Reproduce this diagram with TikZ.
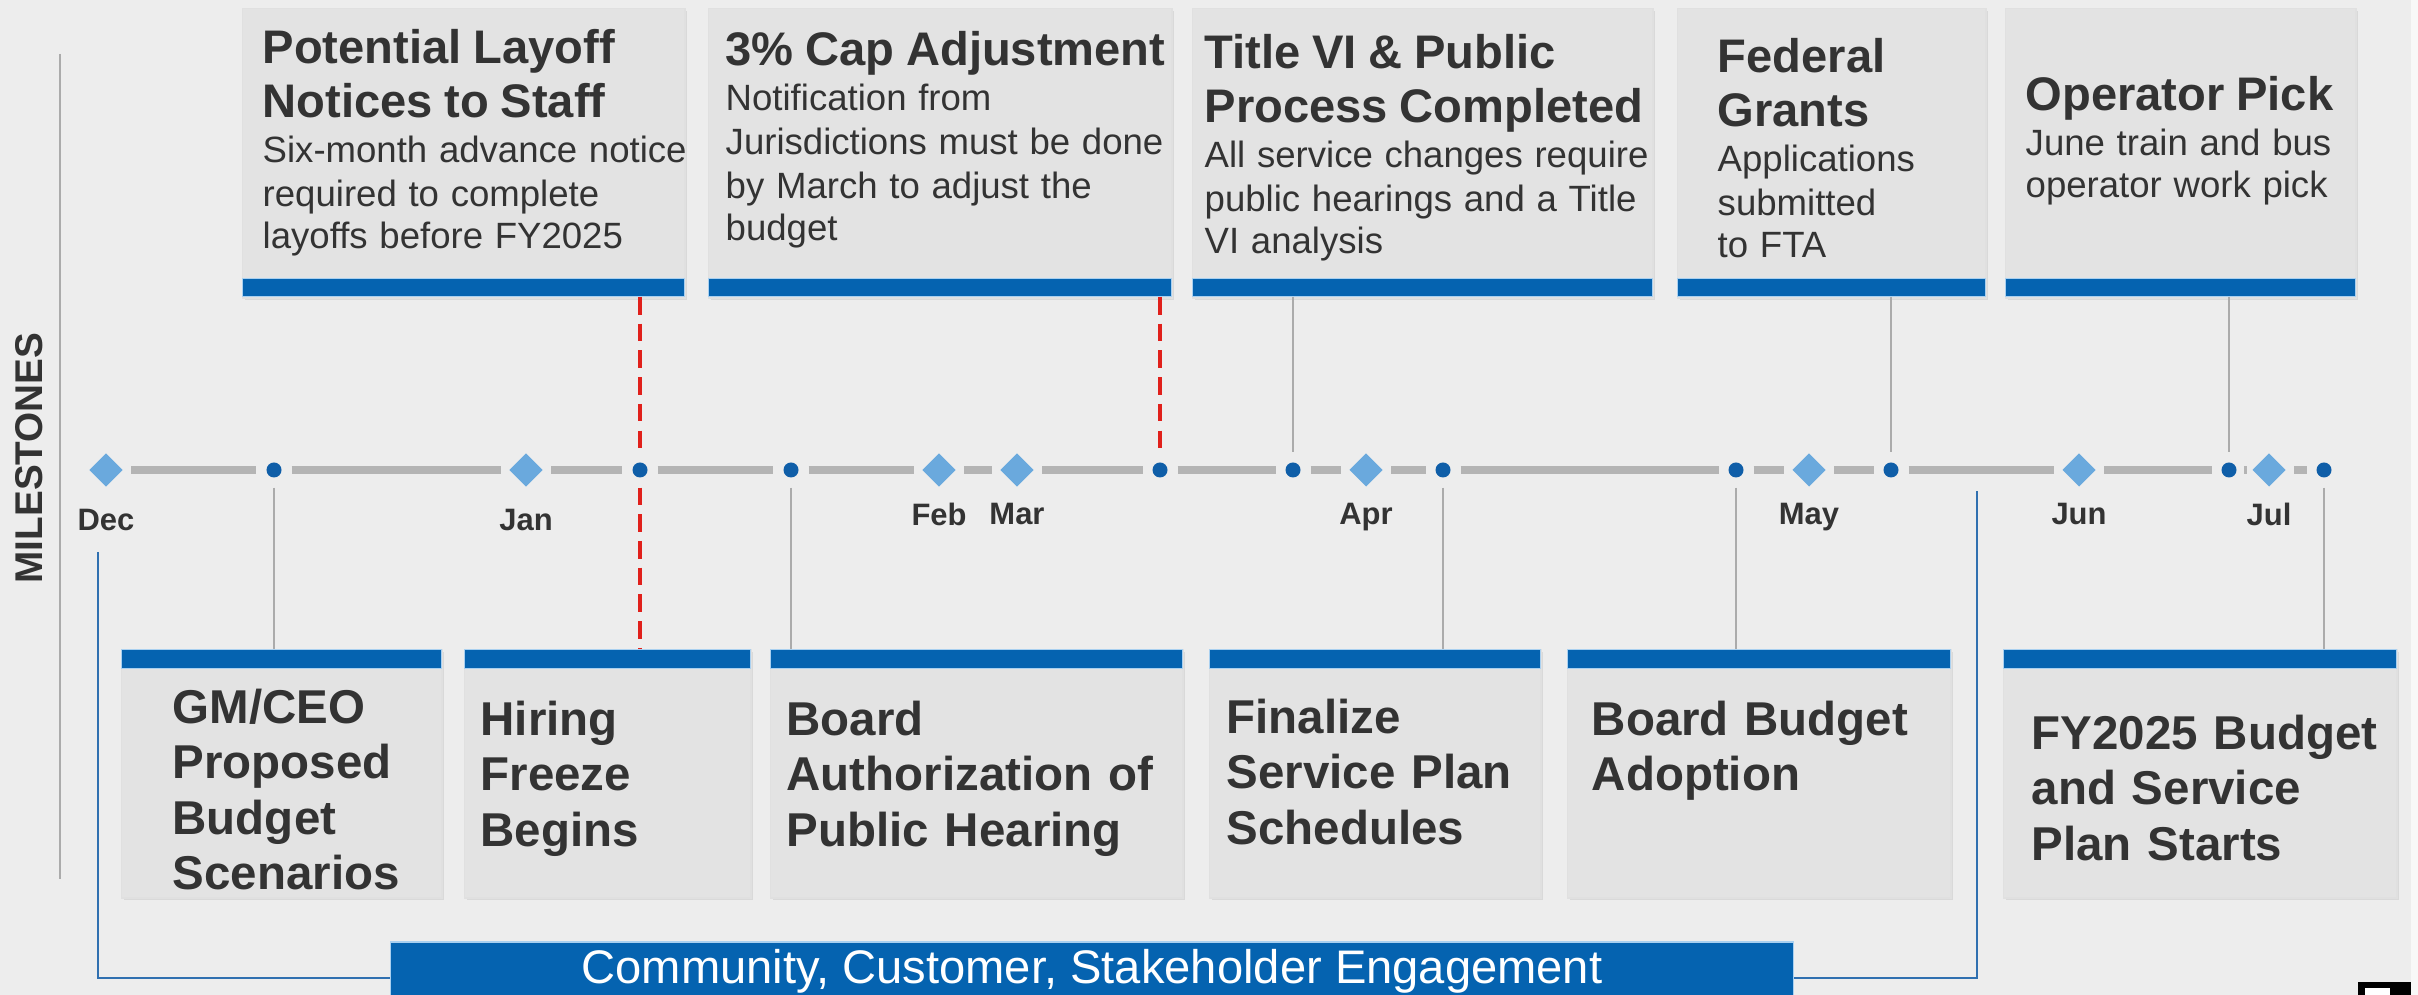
\documentclass[tikz,border=0pt]{standalone}
\usepackage{fontspec}
\setmainfont{Liberation Sans}
\usetikzlibrary{positioning,shapes.geometric,shadows}
\setlength{\parindent}{0pt}

\definecolor{bggray}{HTML}{EDEDED}
\definecolor{cardgray}{HTML}{E3E3E3}
\definecolor{barblue}{HTML}{0563B0}
\definecolor{barrim}{HTML}{A9D0F0}
\definecolor{gemblue}{HTML}{6AA9DD}
\definecolor{dotblue}{HTML}{0F5EA8}
\definecolor{railgray}{HTML}{B4B4B4}
\definecolor{stemgray}{HTML}{ABABAB}
\definecolor{cutred}{HTML}{E0201B}
\definecolor{inkgray}{HTML}{333333}
\definecolor{linkblue}{HTML}{3070B0}

\newcommand{\ttl}{\fontsize{13.4pt}{15.4pt}\selectfont\bfseries}
\newcommand{\bdy}{\fontsize{10.4pt}{12.6pt}\selectfont\mdseries}

\begin{document}
\begin{tikzpicture}[x=0.01cm, y=-0.01cm,
	card/.style = {fill = cardgray, draw = black!12, line width = 0.4pt, inner sep = 0pt, anchor = north west,
		drop shadow = {opacity = 0.18, shadow xshift = 0.6pt, shadow yshift = -0.6pt}},
	bar/.style = {fill = barblue, draw = barrim, line width = 0.3pt, inner sep = 0pt},
	toptext/.style = {anchor = north west, inner sep = 0pt, text width = 6cm, align = left, text = inkgray},
	lowtext/.style = {anchor = north west, inner sep = 0pt, text width = 6cm, align = left, text = inkgray,
		font = \fontsize{13.5pt}{15.8pt}\selectfont\bfseries},
	gem/.style = {diamond, fill = gemblue, inner sep = 0pt, minimum size = 0.38cm, outer sep = 0.06cm},
	pin/.style = {circle, fill = dotblue, inner sep = 0pt, minimum size = 0.15cm, outer sep = 0.1cm},
	month/.style = {inner sep = 0pt, text = inkgray, font = \fontsize{8.8pt}{10pt}\selectfont\bfseries},
	rail/.style = {draw = railgray, line width = 2.3pt},
	stem/.style = {draw = stemgray, line width = 0.6pt},
	cut/.style = {draw = cutred, line width = 1.1pt, dash pattern = on 5pt off 2.6pt},
	link/.style = {draw = linkblue, line width = 0.7pt}]

	\fill[bggray] (0,0) rectangle (2418,995);
	\useasboundingbox (0,0) rectangle (2418,995);
	\fill[white!60!bggray] (2411,0) rectangle (2418,995);

	% side heading
	\draw[stem] (60,54) -- (60,879);
	\node (Milestones) at (29, 458)	[rotate = 90, inner sep = 0pt, text = inkgray, font = \fontsize{11pt}{12pt}\selectfont\bfseries]	{MILESTONES};

	% upper cards
	\node (LayoffBox) at (242, 8)	[card, minimum width = 4.42cm, minimum height = 2.89cm]	{};
	\node (CapBox) at (708, 8)	[card, minimum width = 4.63cm, minimum height = 2.89cm]	{};
	\node (TitleBox) at (1192, 8)	[card, minimum width = 4.60cm, minimum height = 2.89cm]	{};
	\node (GrantBox) at (1677, 8)	[card, minimum width = 3.08cm, minimum height = 2.89cm]	{};
	\node (PickBox) at (2005, 8)	[card, minimum width = 3.50cm, minimum height = 2.89cm]	{};

	\node (LayoffBar) at (242, 297)	[bar, anchor = south west, minimum width = 4.42cm, minimum height = 0.18cm]	{};
	\node (CapBar) at (708, 297)	[bar, anchor = south west, minimum width = 4.63cm, minimum height = 0.18cm]	{};
	\node (TitleBar) at (1192, 297)	[bar, anchor = south west, minimum width = 4.60cm, minimum height = 0.18cm]	{};
	\node (GrantBar) at (1677, 297)	[bar, anchor = south west, minimum width = 3.08cm, minimum height = 0.18cm]	{};
	\node (PickBar) at (2005, 297)	[bar, anchor = south west, minimum width = 3.50cm, minimum height = 0.18cm]	{};

	\node (LayoffText) at (262, 29)	[toptext]	{\ttl Potential Layoff\\ Notices to Staff\par
		\bdy Six-month advance notice\\ required to complete\\ layoffs before FY2025};
	\node (CapText) at (725, 31)	[toptext]	{\ttl 3\% Cap Adjustment\par
		\bdy Notification from\\ Jurisdictions must be done\\ by March to adjust the\\ budget};
	\node (TitleText) at (1204, 34)	[toptext]	{\ttl Title VI \& Public\\ Process Completed\par
		\bdy All service changes require\\ public hearings and a Title\\ VI analysis};
	\node (GrantText) at (1717, 38)	[toptext]	{\ttl Federal\\ Grants\par
		\bdy Applications\\ submitted\\ to FTA};
	\node (PickText) at (2025, 76)	[toptext]	{\ttl Operator Pick\par
		\bdy June train and bus\\ operator work pick};

	% lower cards
	\node (CeoBox) at (121, 649)	[card, minimum width = 3.20cm, minimum height = 2.48cm]	{};
	\node (HiringBox) at (464, 649)	[card, minimum width = 2.86cm, minimum height = 2.48cm]	{};
	\node (HearingBox) at (770, 649)	[card, minimum width = 4.12cm, minimum height = 2.48cm]	{};
	\node (ScheduleBox) at (1209, 649)	[card, minimum width = 3.31cm, minimum height = 2.48cm]	{};
	\node (AdoptBox) at (1567, 649)	[card, minimum width = 3.83cm, minimum height = 2.48cm]	{};
	\node (StartBox) at (2003, 649)	[card, minimum width = 3.93cm, minimum height = 2.48cm]	{};

	\node (CeoBar) at (121, 649)	[bar, anchor = north west, minimum width = 3.20cm, minimum height = 0.19cm]	{};
	\node (HiringBar) at (464, 649)	[bar, anchor = north west, minimum width = 2.86cm, minimum height = 0.19cm]	{};
	\node (HearingBar) at (770, 649)	[bar, anchor = north west, minimum width = 4.12cm, minimum height = 0.19cm]	{};
	\node (ScheduleBar) at (1209, 649)	[bar, anchor = north west, minimum width = 3.31cm, minimum height = 0.19cm]	{};
	\node (AdoptBar) at (1567, 649)	[bar, anchor = north west, minimum width = 3.83cm, minimum height = 0.19cm]	{};
	\node (StartBar) at (2003, 649)	[bar, anchor = north west, minimum width = 3.93cm, minimum height = 0.19cm]	{};

	\node (CeoText) at (172, 688)	[lowtext]	{GM/CEO\\ Proposed\\ Budget\\ Scenarios};
	\node (HiringText) at (480, 700)	[lowtext]	{Hiring\\ Freeze\\ Begins};
	\node (HearingText) at (786, 700)	[lowtext]	{Board\\ Authorization of\\ Public Hearing};
	\node (ScheduleText) at (1226, 698)	[lowtext]	{Finalize\\ Service Plan\\ Schedules};
	\node (AdoptText) at (1591, 700)	[lowtext]	{Board Budget\\ Adoption};
	\node (StartText) at (2031, 714)	[lowtext]	{FY2025 Budget\\ and Service\\ Plan Starts};

	% timeline marks
	\node (Dec) at (106, 470)	[gem]	{};
	\node (P1) at (274, 470)	[pin]	{};
	\node (Jan) at (526, 470)	[gem]	{};
	\node (P2) at (640, 470)	[pin]	{};
	\node (P3) at (791, 470)	[pin]	{};
	\node (Feb) at (939, 470)	[gem]	{};
	\node (Mar) at (1017, 470)	[gem]	{};
	\node (P4) at (1160, 470)	[pin]	{};
	\node (P5) at (1293, 470)	[pin]	{};
	\node (Apr) at (1366, 470)	[gem]	{};
	\node (P6) at (1443, 470)	[pin]	{};
	\node (P7) at (1736, 470)	[pin]	{};
	\node (May) at (1809, 470)	[gem]	{};
	\node (P8) at (1891, 470)	[pin]	{};
	\node (Jun) at (2079, 470)	[gem]	{};
	\node (P9) at (2229, 470)	[pin]	{};
	\node (Jul) at (2269, 470)	[gem]	{};
	\node (P10) at (2324, 470)	[pin]	{};

	\node (DecTag) [month, below = 0.13cm of Dec]	{Dec};
	\node (JanTag) [month, below = 0.13cm of Jan]	{Jan};
	\node (FebTag) [month, below = 0.07cm of Feb]	{Feb};
	\node (MarTag) [month, below = 0.07cm of Mar]	{Mar};
	\node (AprTag) [month, below = 0.07cm of Apr]	{Apr};
	\node (MayTag) [month, below = 0.07cm of May]	{May};
	\node (JunTag) [month, below = 0.07cm of Jun]	{Jun};
	\node (JulTag) [month, below = 0.07cm of Jul]	{Jul};

	\draw[rail] (Dec) -- (P1);
	\draw[rail] (P1) -- (Jan);
	\draw[rail] (Jan) -- (P2);
	\draw[rail] (P2) -- (P3);
	\draw[rail] (P3) -- (Feb);
	\draw[rail] (Feb) -- (Mar);
	\draw[rail] (Mar) -- (P4);
	\draw[rail] (P4) -- (P5);
	\draw[rail] (P5) -- (Apr);
	\draw[rail] (Apr) -- (P6);
	\draw[rail] (P6) -- (P7);
	\draw[rail] (P7) -- (May);
	\draw[rail] (May) -- (P8);
	\draw[rail] (P8) -- (Jun);
	\draw[rail] (Jun) -- (P9);
	\draw[rail] (P9) -- (Jul);
	\draw[rail] (Jul) -- (P10);

	% cards to marks
	\draw[cut] (P2 |- LayoffBar.south) -- (P2);
	\draw[cut] (P2) -- (P2 |- HiringBar.north);
	\draw[cut] (P4 |- CapBar.south) -- (P4);
	\draw[stem] (P5 |- TitleBar.south) -- (P5);
	\draw[stem] (P8 |- GrantBar.south) -- (P8);
	\draw[stem] (P9 |- PickBar.south) -- (P9);
	\draw[stem] (P1) -- (P1 |- CeoBar.north);
	\draw[stem] (P3) -- (P3 |- HearingBar.north);
	\draw[stem] (P6) -- (P6 |- ScheduleBar.north);
	\draw[stem] (P7) -- (P7 |- AdoptBar.north);
	\draw[stem] (P10) -- (P10 |- StartBar.north);

	% engagement band
	\node (Engage) at (1092, 978)	[fill = barblue, draw = barrim, line width = 0.4pt, inner sep = 0pt, minimum width = 14.02cm,
		text height = 0.41cm, text depth = 0.31cm, text = white, font = \fontsize{13.4pt}{15pt}\selectfont]
		{Community, Customer, Stakeholder Engagement};
	\coordinate (DecFoot) at (98, 552);
	\coordinate (JunFoot) at (1977, 491);
	\draw[link] (DecFoot) |- (Engage.west);
	\draw[link] (Engage.east) -| (JunFoot);

	% cropped corner mark
	\fill[black] (2358,982) rectangle (2411,1000);
	\fill[white] (2365,988) rectangle (2390,1000);
\end{tikzpicture}
\end{document}
